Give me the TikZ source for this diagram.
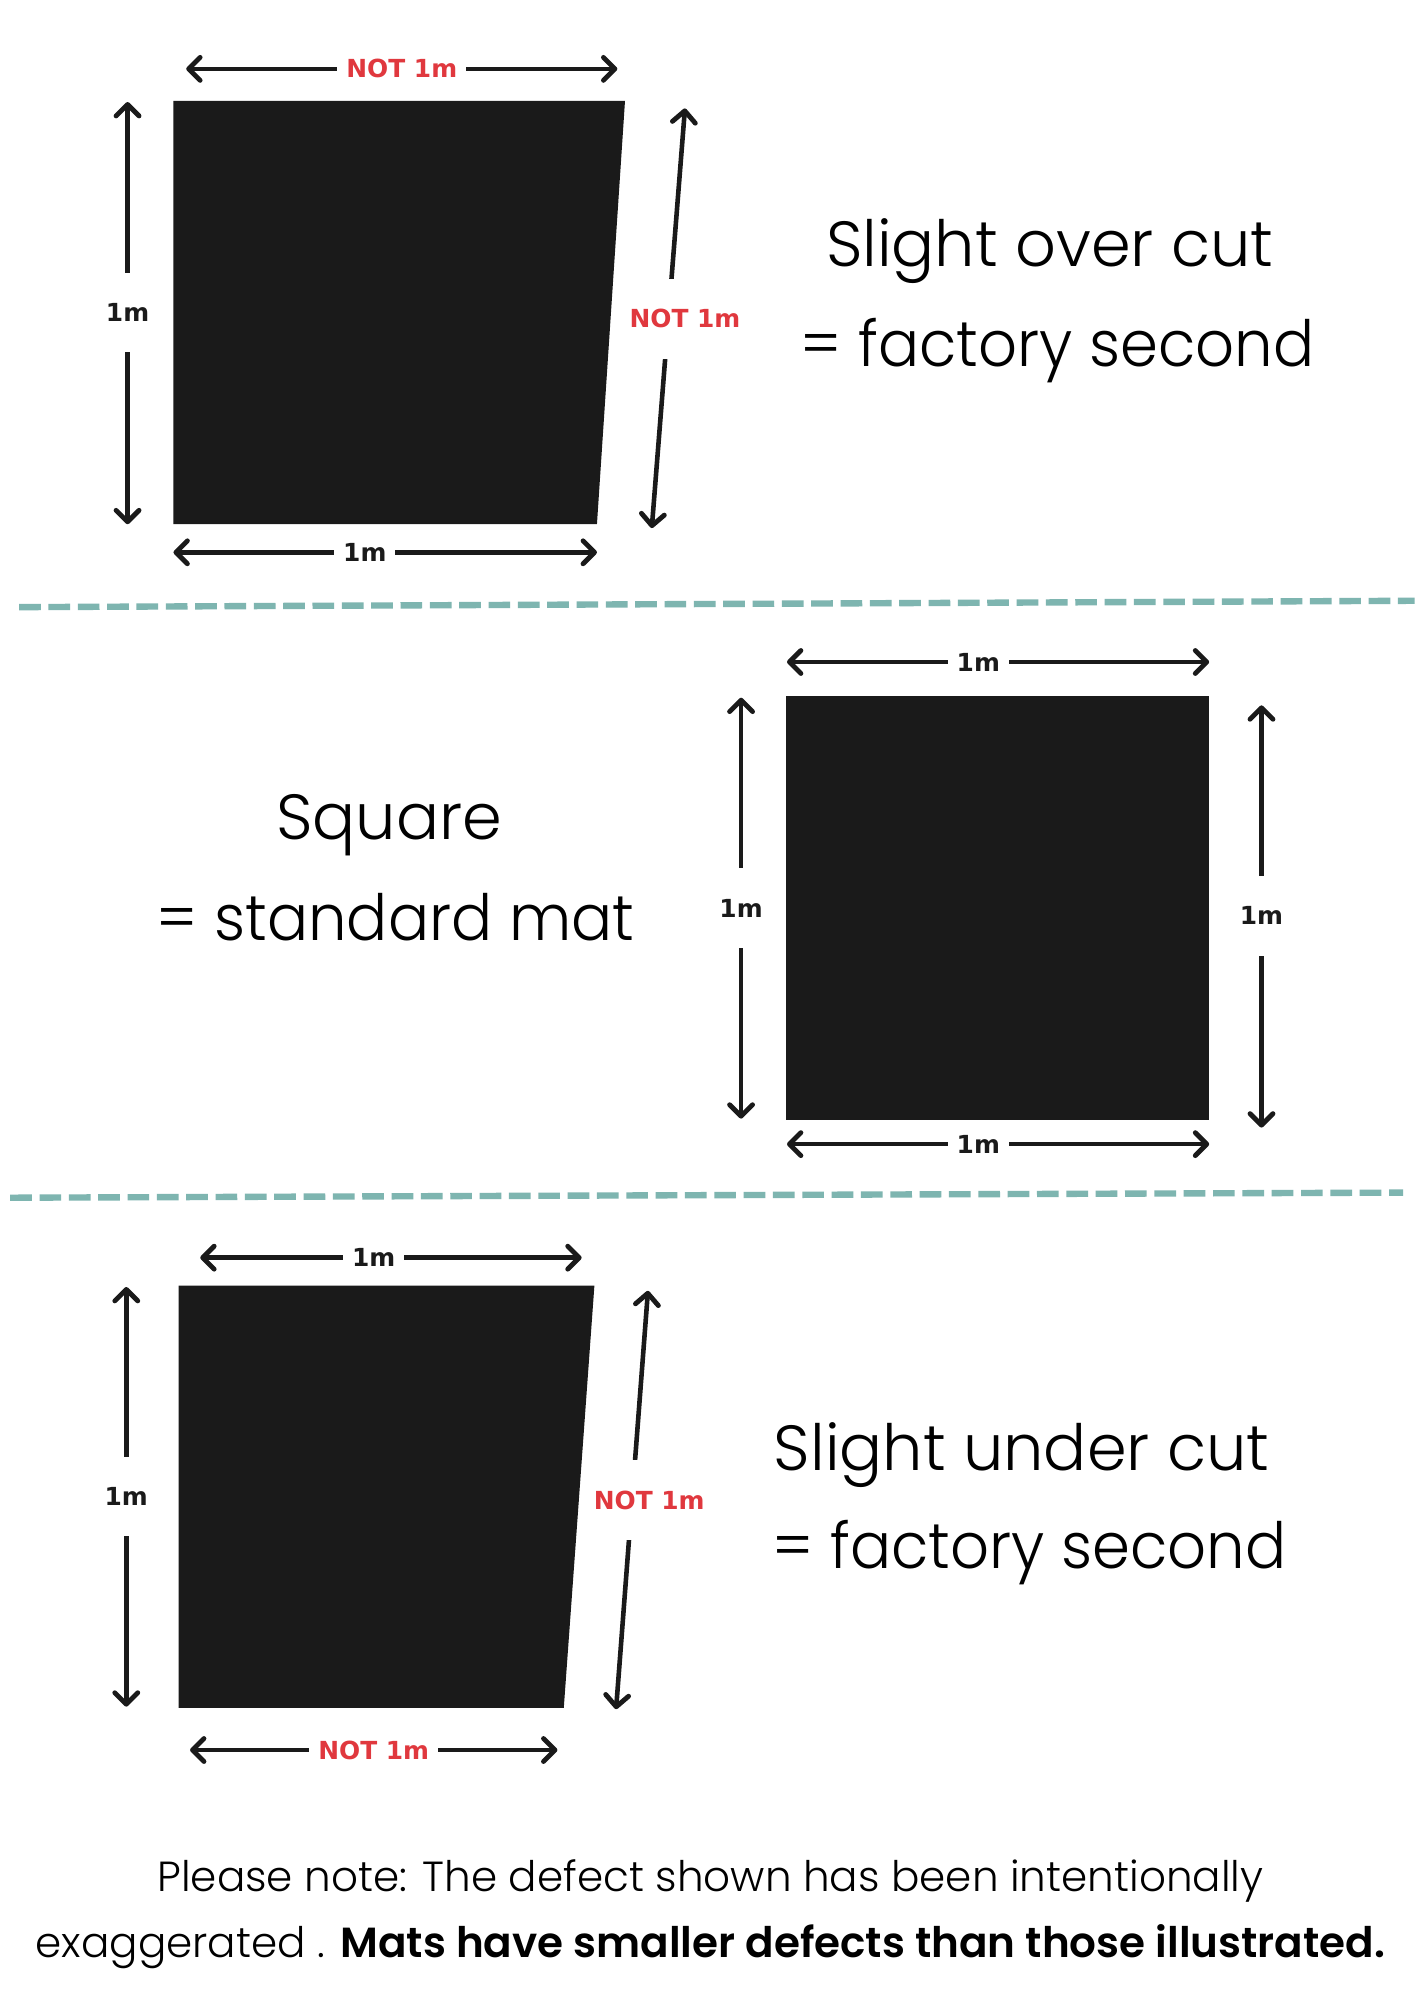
\documentclass[tikz,border=0pt]{standalone}
\usepackage{fontspec}
\setmainfont{Poppins}[UprightFont={* Light},BoldFont={* SemiBold}]
\newfontfamily\labfont{DejaVu Sans}
\usetikzlibrary{arrows.meta}
\definecolor{ink}{HTML}{1A1A1A}
\definecolor{redlab}{HTML}{E0383E}
\definecolor{sepcol}{HTML}{7EB5B0}
\newcommand{\squeeze}[1]{\scalebox{0.955}[1]{#1}}
\begin{document}
\begin{tikzpicture}[x=1pt,y=-1pt,
  tip/.tip={Straight Barb[length=9pt,width=18pt,line width=3.8pt,line cap=round,line join=round]},
  dim/.style={line width=3.6pt,draw=ink,tip-tip},
  lab/.style={fill=white,inner xsep=7pt,inner ysep=3pt,text=ink,font=\labfont\bfseries\fontsize{19.5}{20}\selectfont},
  vlab/.style={lab,inner xsep=2pt,inner ysep=24pt},
  red/.style={text=redlab},
  mat/.style={fill=ink},
  sepline/.style={draw=sepcol,line width=5pt,dash pattern=on 17pt off 6pt},
  big/.style={anchor=base,inner sep=0pt,font=\fontsize{50}{60}\selectfont,text=black},
  foot/.style={anchor=base,inner sep=0pt,font=\fontsize{33}{38}\selectfont,text=black}]
\path[use as bounding box,fill=white] (0,0) rectangle (1109,1568);

% ---------- top section
\fill[mat] (136,79) -- (490,79) -- (468,411) -- (136,411) -- cycle;
\coordinate (t1a) at (146,54);  \coordinate (t1b) at (484,54);
\draw[dim] (t1a) -- (t1b);
\node[lab,red] (t1l) at (315,54) {NOT 1m};
\coordinate (l1a) at (100,80);  \coordinate (l1b) at (100,411);
\draw[dim] (l1a) -- (l1b);
\node[vlab] (l1l) at (100,245) {1m};
\coordinate (r1a) at (537,85);  \coordinate (r1b) at (511,414);
\draw[dim] (r1a) -- (r1b);
\node[vlab,red] (r1l) at (537,250) {NOT 1m};
\coordinate (b1a) at (136,433); \coordinate (b1b) at (468,433);
\draw[dim] (b1a) -- (b1b);
\node[lab] (b1l) at (286,433) {1m};
\node[big] (txt1a) at (823,209) {Slight over cut};
\node[big] (txt1b) at (829,287) {\squeeze{= factory second}};

\coordinate (s1a) at (15,476); \coordinate (s1b) at (1109,471);
\draw[sepline] (s1a) -- (s1b);

% ---------- middle section
\fill[mat] (616,546) rectangle (948,878);
\coordinate (t2a) at (617,519); \coordinate (t2b) at (948,519);
\draw[dim] (t2a) -- (t2b);
\node[lab] (t2l) at (767,519) {1m};
\coordinate (l2a) at (581,547); \coordinate (l2b) at (581,877);
\draw[dim] (l2a) -- (l2b);
\node[vlab] (l2l) at (581,712) {1m};
\coordinate (r2a) at (989,553); \coordinate (r2b) at (989,884);
\draw[dim] (r2a) -- (r2b);
\node[vlab] (r2l) at (989,718) {1m};
\coordinate (b2a) at (617,897); \coordinate (b2b) at (948,897);
\draw[dim] (b2a) -- (b2b);
\node[lab] (b2l) at (767,897) {1m};
\node[big] (txt2a) at (305,658) {Square};
\node[big] (txt2b) at (310,737) {\squeeze{= standard mat}};

\coordinate (s2a) at (8,939); \coordinate (s2b) at (1100,935);
\draw[sepline] (s2a) -- (s2b);

% ---------- bottom section
\fill[mat] (140,1008) -- (466,1008) -- (442,1339) -- (140,1339) -- cycle;
\coordinate (t3a) at (157,986); \coordinate (t3b) at (456,986);
\draw[dim] (t3a) -- (t3b);
\node[lab] (t3l) at (293,986) {1m};
\coordinate (l3a) at (99,1009); \coordinate (l3b) at (99,1338);
\draw[dim] (l3a) -- (l3b);
\node[vlab] (l3l) at (99,1173) {1m};
\coordinate (r3a) at (508,1012); \coordinate (r3b) at (483,1340);
\draw[dim] (r3a) -- (r3b);
\node[vlab,red] (r3l) at (509,1176) {NOT 1m};
\coordinate (b3a) at (149,1372); \coordinate (b3b) at (437,1372);
\draw[dim] (b3a) -- (b3b);
\node[lab,red] (b3l) at (293,1372) {NOT 1m};
\node[big] (txt3a) at (801,1153) {Slight under cut};
\node[big] (txt3b) at (807,1230) {\squeeze{= factory second}};

% ---------- footer
\node[foot] (f1) at (557,1483) {Please note: The defect shown has been intentionally};
\node[foot] (f2) at (557,1535) {exaggerated . \textbf{Mats have smaller defects than those illustrated.}};
\end{tikzpicture}
\end{document}
